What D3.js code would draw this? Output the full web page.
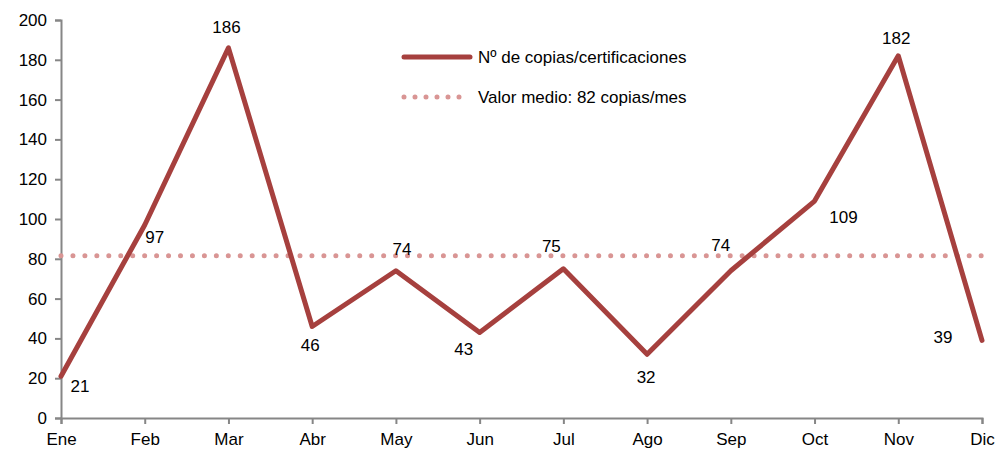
<!DOCTYPE html>
<html><head><meta charset="utf-8">
<script src="https://cdn.jsdelivr.net/npm/d3@7"></script>
<style>body{margin:0;background:#fff}svg text{font-family:"Liberation Sans",Arial,sans-serif;fill:#000}</style>
</head><body><svg id="c" width="999" height="451"></svg>
<script>
const months = ["Ene","Feb","Mar","Abr","May","Jun","Jul","Ago","Sep","Oct","Nov","Dic"];
const copies = [21,97,186,46,74,43,75,32,74,109,182,39];
const meanValue = 82;
const yTicks = [0,20,40,60,80,100,120,140,160,180,200];
const seriesNames = ["Nº de copias/certificaciones","Valor medio: 82 copias/mes"];

// label offsets (dx, dy of label centre from point)
const labelOffsets = [[19,10],[10,13],[-2,-20],[-2,19],[6,-21],[-16,17],[-12,-22],[-1,23],[-10,-25],[29,16],[-2,-17],[-39,-3]];

const svg = d3.select("#c");
const x = d3.scalePoint().domain(months).range([61,982]);
const y = d3.scaleLinear().domain([0,200]).range([418,20]);
const axisColor = "#868686";
const lineColor = "#A6403E";
const meanColor = "#D99594";
const fs = 17;

const yAxis = svg.append("g").attr("transform","translate(61,0)")
  .call(d3.axisLeft(y).tickValues(yTicks).tickSize(6).tickPadding(8));
const xAxis = svg.append("g").attr("transform","translate(0,418)")
  .call(d3.axisBottom(x).tickSize(6).tickPadding(5));
[yAxis,xAxis].forEach(g=>{
  g.select(".domain").attr("stroke",axisColor).attr("stroke-width",2);
  g.selectAll(".tick line").attr("stroke",axisColor).attr("stroke-width",2);
  g.selectAll(".tick text").attr("font-size",fs).attr("fill","#000").style("font-family","Liberation Sans, Arial, sans-serif");
});
xAxis.selectAll(".tick text").attr("dy","0.95em");

// mean line
svg.append("line").attr("x1",61).attr("x2",982).attr("y1",y(meanValue)+1).attr("y2",y(meanValue)+1)
  .attr("stroke",meanColor).attr("stroke-width",5).attr("stroke-linecap","round").attr("stroke-dasharray","0 11.95");

// series line
svg.append("path").datum(copies)
  .attr("d",d3.line().x((d,i)=>x(months[i])).y(d=>y(d)))
  .attr("fill","none").attr("stroke",lineColor).attr("stroke-width",5).attr("stroke-linejoin","round").attr("stroke-linecap","round");

// labels
svg.append("g").selectAll("text").data(copies).join("text")
  .attr("x",(d,i)=>x(months[i])+labelOffsets[i][0])
  .attr("y",(d,i)=>y(d)+labelOffsets[i][1])
  .attr("text-anchor","middle").attr("dominant-baseline","central")
  .attr("font-size",fs).text(d=>d);

// legend
const lg = svg.append("g");
lg.append("line").attr("x1",404).attr("x2",470).attr("y1",57).attr("y2",57)
  .attr("stroke",lineColor).attr("stroke-width",5).attr("stroke-linecap","round");
lg.append("text").attr("x",478).attr("y",57).attr("dominant-baseline","central").attr("font-size",fs).text(seriesNames[0]);
lg.append("line").attr("x1",404).attr("x2",470).attr("y1",97).attr("y2",97)
  .attr("stroke",meanColor).attr("stroke-width",5).attr("stroke-linecap","round").attr("stroke-dasharray","0 11");
lg.append("text").attr("x",478).attr("y",97).attr("dominant-baseline","central").attr("font-size",fs).text(seriesNames[1]);
</script></body></html>
